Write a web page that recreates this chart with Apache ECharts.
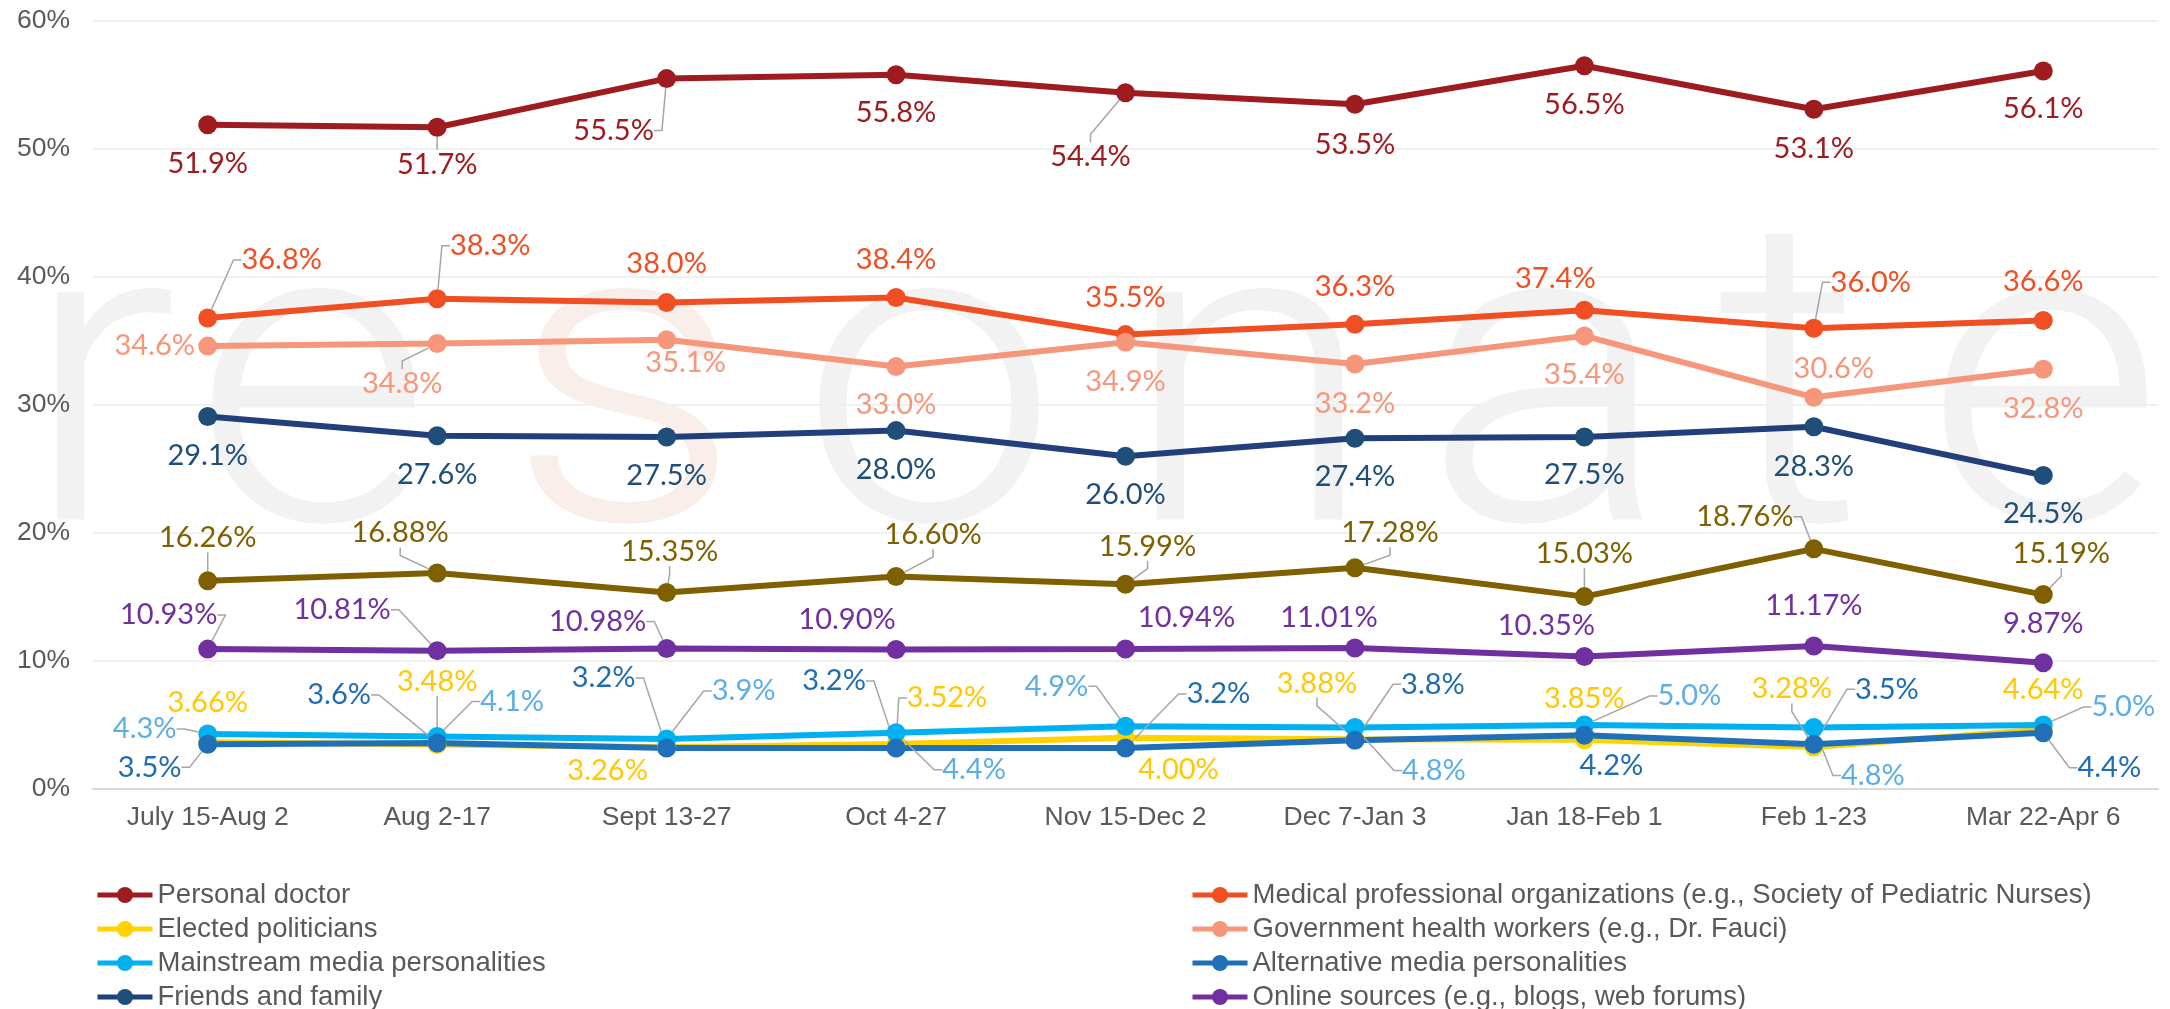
<!DOCTYPE html>
<html>
<head>
<meta charset="utf-8">
<script src="https://cdn.jsdelivr.net/npm/echarts@6/dist/echarts.min.js"></script>
<style>
  html, body { margin: 0; padding: 0; background: #fff; }
  #chart { width: 2170px; height: 1009px; }
</style>
</head>
<body>
<div id="chart"></div>
<script>
// Survey periods (x axis)
const periods = ['July 15-Aug 2', 'Aug 2-17', 'Sept 13-27', 'Oct 4-27', 'Nov 15-Dec 2',
  'Dec 7-Jan 3', 'Jan 18-Feb 1', 'Feb 1-23', 'Mar 22-Apr 6'];

// Share of respondents trusting each source (%)
const personalDoctor = [51.9, 51.7, 55.5, 55.8, 54.4, 53.5, 56.5, 53.1, 56.1];
const medicalOrgs = [36.8, 38.3, 38.0, 38.4, 35.5, 36.3, 37.4, 36.0, 36.6];
const electedPoliticians = [3.66, 3.48, 3.26, 3.52, 4.00, 3.88, 3.85, 3.28, 4.64];
const govHealthWorkers = [34.6, 34.8, 35.1, 33.0, 34.9, 33.2, 35.4, 30.6, 32.8];
const mainstreamMedia = [4.3, 4.1, 3.9, 4.4, 4.9, 4.8, 5.0, 4.8, 5.0];
const alternativeMedia = [3.5, 3.6, 3.2, 3.2, 3.2, 3.8, 4.2, 3.5, 4.4];
const friendsFamily = [29.1, 27.6, 27.5, 28.0, 26.0, 27.4, 27.5, 28.3, 24.5];
const onlineSources = [10.93, 10.81, 10.98, 10.90, 10.94, 11.01, 10.35, 11.17, 9.87];
const unlabeledSeries = [16.26, 16.88, 15.35, 16.60, 15.99, 17.28, 15.03, 18.76, 15.19];

const yTicks = [0, 10, 20, 30, 40, 50, 60];

const leftLegend = ['Personal doctor', 'Elected politicians', 'Mainstream media personalities', 'Friends and family'];
const rightLegend = ['Medical professional organizations (e.g., Society of Pediatric Nurses)',
  'Government health workers (e.g., Dr. Fauci)', 'Alternative media personalities',
  'Online sources (e.g., blogs, web forums)'];

// series definitions: name, values, decimals shown, colours
const seriesDefs = [
  { name: 'Personal doctor', values: personalDoctor, dec: 1, line: '#9E1B20', label: '#9E1B20' },
  { name: rightLegend[0], values: medicalOrgs, dec: 1, line: '#F04E23', label: '#F04E23' },
  { name: 'Elected politicians', values: electedPoliticians, dec: 2, line: '#FFD200', label: '#FFC800' },
  { name: rightLegend[1], values: govHealthWorkers, dec: 1, line: '#F6977B', label: '#F6977B' },
  { name: 'Mainstream media personalities', values: mainstreamMedia, dec: 1, line: '#00B0F0', label: '#5DAEE6' },
  { name: rightLegend[2], values: alternativeMedia, dec: 1, line: '#1F70B8', label: '#1F6CB0' },
  { name: 'Friends and family', values: friendsFamily, dec: 1, line: '#233F7B', marker: '#1F4E79', label: '#1F4E79' },
  { name: rightLegend[3], values: onlineSources, dec: 2, line: '#7030A0', label: '#7030A0' },
  { name: 'Other', values: unlabeledSeries, dec: 2, line: '#7F6000', label: '#7F6000' }
];

// label placement: [dx, dy] from the point, and whether a leader line is drawn
const labelOffsets = {
  'Personal doctor': [[0, 39], [0, 37], [-53, 52], [0, 38], [-35, 64], [0, 40], [0, 39], [0, 39], [0, 38]],
  [rightLegend[0]]: [[74, -58], [53, -53], [0, -39], [0, -38], [0, -37], [0, -38], [-29, -32], [57, -46], [0, -39]],
  'Elected politicians': [[0, -40], [0, -63], [-59, 23], [51, -46], [53, 32], [-38, -56], [0, -41], [-22, -58], [0, -40]],
  [rightLegend[1]]: [[-53, 0], [-35, 40], [19, 23], [0, 38], [0, 39], [0, 40], [0, 39], [20, -29], [0, 39]],
  'Mainstream media personalities': [[-63, -5], [75, -35], [77, -48], [78, 37], [-69, -40], [79, 43], [105, -29], [59, 48], [80, -18]],
  [rightLegend[2]]: [[-58, 23], [-98, -48], [-63, -70], [-62, -67], [93, -54], [78, -56], [27, 30], [73, -55], [66, 35]],
  'Friends and family': [[0, 39], [0, 39], [0, 39], [0, 39], [0, 38], [0, 38], [0, 38], [0, 40], [0, 38]],
  [rightLegend[3]]: [[-39, -34], [-95, -41], [-69, -27], [-49, -30], [61, -31], [-26, -30], [-38, -31], [0, -40], [0, -39]],
  'Other': [[0, -43], [-37, -40], [3, -41], [37, -42], [22, -38], [35, -35], [0, -43], [-69, -32], [18, -41]]
};
const leaders = {
  'Personal doctor': [0, 1, 1, 0, 1, 0, 0, 0, 0],
  [rightLegend[0]]: [1, 1, 0, 0, 0, 0, 0, 1, 0],
  'Elected politicians': [0, 1, 0, 1, 0, 1, 0, 1, 0],
  [rightLegend[1]]: [0, 1, 0, 0, 0, 0, 0, 0, 0],
  'Mainstream media personalities': [1, 1, 1, 1, 1, 1, 1, 1, 1],
  [rightLegend[2]]: [1, 1, 1, 1, 1, 1, 0, 1, 1],
  'Friends and family': [0, 0, 0, 0, 0, 0, 0, 0, 0],
  [rightLegend[3]]: [1, 1, 1, 0, 0, 0, 0, 0, 0],
  'Other': [1, 1, 1, 1, 1, 1, 1, 1, 1]
};

const chartDom = document.getElementById('chart');
const myChart = echarts.init(chartDom);

const series = seriesDefs.map(def => {
  const offs = labelOffsets[def.name];
  const lead = leaders[def.name];
  return {
    name: def.name,
    type: 'line',
    symbol: 'circle',
    symbolSize: 19,
    lineStyle: { color: def.line, width: 6 },
    itemStyle: { color: def.marker || def.line },
    data: def.values.map((v, i) => ({ value: v, labelLine: { show: !!lead[i] } })),
    label: {
      show: true,
      position: 'inside',
      color: def.label,
      fontSize: 29,
      fontFamily: 'Lato, "Open Sans", sans-serif',
      formatter: p => p.value.toFixed(def.dec) + '%'
    },
    labelLine: {
      length2: 8,
      lineStyle: { color: '#A6A6A6', width: 1.5 }
    },
    labelLayout: p => ({ dx: offs[p.dataIndex][0], dy: offs[p.dataIndex][1] })
  };
});

// faint "resonate" watermark behind the plot
const watermark = 'resonate'.split('');
const watermarkX = [100, 312, 625, 929, 1249, 1547, 1790, 2044];

const legendBase = {
  orient: 'vertical',
  top: 881,
  height: 135,
  padding: 0,
  itemWidth: 55,
  itemHeight: 20,
  itemGap: 6,
  lineStyle: { width: 5 },
  textStyle: { fontSize: 27.5, lineHeight: 28, color: '#595959', fontFamily: '"Liberation Sans", Arial, sans-serif' }
};

const option = {
  animation: false,
  graphic: watermark.map((ch, i) => ({
    type: 'text',
    z: -10,
    silent: true,
    x: watermarkX[i],
    y: 412,
    scaleX: 1.08,
    style: {
      text: ch,
      fill: ch === 's' ? '#F9EEEA' : '#F2F2F2',
      fontSize: 430,
      fontWeight: 300,
      fontFamily: 'Roboto',
      align: 'center',
      verticalAlign: 'middle'
    }
  })),
  grid: { left: 93, right: 12, top: 21, bottom: 220 },
  legend: [
    Object.assign({}, legendBase, { left: 95, data: leftLegend }),
    Object.assign({}, legendBase, { left: 1190, data: rightLegend })
  ],
  xAxis: {
    type: 'category',
    data: periods,
    axisTick: { show: false },
    axisLine: { lineStyle: { color: '#D9D9D9', width: 2 } },
    axisLabel: {
      interval: 0,
      margin: 15,
      fontSize: 26.5,
      color: '#595959',
      fontFamily: '"Liberation Sans", Arial, sans-serif'
    }
  },
  yAxis: {
    type: 'value',
    min: yTicks[0],
    max: yTicks[yTicks.length - 1],
    interval: 10,
    axisLine: { show: false },
    axisTick: { show: false },
    splitLine: { lineStyle: { color: '#F0F0F0', width: 2 } },
    axisLabel: {
      formatter: '{value}%',
      margin: 23,
      fontSize: 26.5,
      color: '#595959',
      fontFamily: '"Liberation Sans", Arial, sans-serif'
    }
  },
  series: series
};

myChart.setOption(option);
</script>
</body>
</html>
